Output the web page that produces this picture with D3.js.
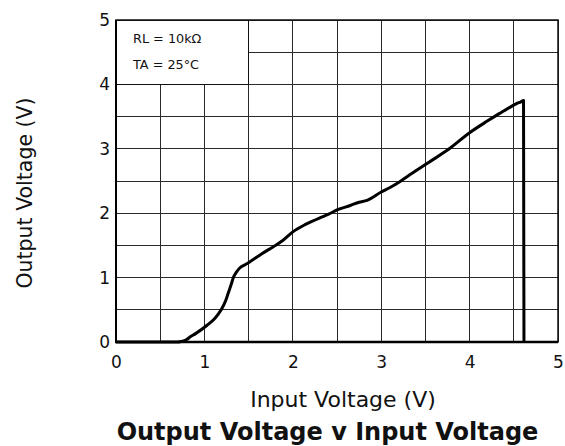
<!DOCTYPE html>
<html><head><meta charset="utf-8">
<script src="https://cdn.jsdelivr.net/npm/d3@7"></script>
<style>body{margin:0;background:#fff;} svg{display:block;}</style>
</head><body>
<script>
const inputV = [0, 0.5, 0.7, 0.74, 0.8, 0.84, 0.9, 1.03, 1.12, 1.19, 1.24, 1.27, 1.3, 1.33, 1.36, 1.4, 1.46, 1.52, 1.65, 1.78, 1.89, 2.0, 2.15, 2.31, 2.4, 2.5, 2.65, 2.75, 2.84, 3.0, 3.1, 3.21, 3.35, 3.55, 3.75, 4.0, 4.2, 4.34, 4.45, 4.53, 4.58, 4.61, 4.615];
const outputV = [0, 0, 0, 0.01, 0.04, 0.08, 0.13, 0.26, 0.37, 0.5, 0.64, 0.76, 0.88, 1.01, 1.08, 1.15, 1.2, 1.25, 1.37, 1.48, 1.58, 1.71, 1.83, 1.93, 1.98, 2.05, 2.12, 2.17, 2.2, 2.33, 2.4, 2.49, 2.62, 2.8, 2.98, 3.25, 3.43, 3.55, 3.64, 3.7, 3.73, 3.75, 0];
const xTicks = [0, 1, 2, 3, 4, 5];
const yTicks = [0, 1, 2, 3, 4, 5];
const gridStep = [0, 0.5, 1, 1.5, 2, 2.5, 3, 3.5, 4, 4.5, 5];
const legendLines = ["RL = 10kΩ", "TA = 25°C"];
const xLabel = "Input Voltage (V)";
const yLabel = "Output Voltage (V)";
const title = "Output Voltage v Input Voltage";

const W = 565, H = 446;
const svg = d3.select("body").append("svg").attr("width", W).attr("height", H);
const font = "'DejaVu Sans', Verdana, sans-serif";
const x = d3.scaleLinear().domain([0, 5]).range([116, 558]);
const y = d3.scaleLinear().domain([0, 5]).range([342, 20]);

// grid
const g = svg.append("g").attr("stroke", "#2a2a2a").attr("stroke-width", 1).attr("shape-rendering", "crispEdges");
gridStep.forEach(v => {
  g.append("line").attr("x1", x(v)).attr("x2", x(v)).attr("y1", y(0)).attr("y2", y(5));
  g.append("line").attr("x1", x(0)).attr("x2", x(5)).attr("y1", y(v)).attr("y2", y(v));
});
// legend box (covers grid)
svg.append("rect").attr("x", x(0)).attr("y", y(5)).attr("width", x(1.5) - x(0)).attr("height", y(4) - y(5))
  .attr("fill", "#fff").attr("stroke", "#111").attr("stroke-width", 1).attr("shape-rendering", "crispEdges");
legendLines.forEach((t, i) => {
  svg.append("text").attr("x", 133).attr("y", 42.5 + i * 26.7).text(t)
    .attr("font-family", font).attr("font-size", 12.8).attr("fill", "#111");
});
// frame
svg.append("rect").attr("x", x(0)).attr("y", y(5)).attr("width", x(5) - x(0)).attr("height", y(0) - y(5))
  .attr("fill", "none").attr("stroke", "#111").attr("stroke-width", 1.5);
svg.append("line").attr("x1", x(0) - 1).attr("x2", x(5)).attr("y1", y(0)).attr("y2", y(0)).attr("stroke", "#000").attr("stroke-width", 2.5);
svg.append("line").attr("x1", x(0)).attr("x2", x(0)).attr("y1", y(0)).attr("y2", y(5)).attr("stroke", "#000").attr("stroke-width", 2);

// axes (tick labels only)
const xa = svg.append("g").attr("transform", `translate(0,${y(0)})`)
  .call(d3.axisBottom(x).tickValues(xTicks).tickFormat(d3.format("d")).tickSize(0).tickPadding(14));
const ya = svg.append("g").attr("transform", `translate(${x(0)},0)`)
  .call(d3.axisLeft(y).tickValues(yTicks).tickFormat(d3.format("d")).tickSize(0).tickPadding(6));
[xa, ya].forEach(a => {
  a.select(".domain").remove();
  a.selectAll("text").attr("font-family", font).attr("font-size", 17).attr("fill", "#111");
});

// curve
const data = inputV.map((v, i) => [v, outputV[i]]);
svg.append("path").datum(data)
  .attr("d", d3.line().x(d => x(d[0])).y(d => y(d[1])).curve(d3.curveMonotoneX))
  .attr("fill", "none").attr("stroke", "#000").attr("stroke-width", 3).attr("stroke-linejoin", "round");

// labels
svg.append("text").attr("x", 343).attr("y", 406.5).attr("text-anchor", "middle").text(xLabel)
  .attr("font-family", font).attr("font-size", 22).attr("fill", "#111");
svg.append("text").attr("transform", "translate(32,193) rotate(-90)").attr("text-anchor", "middle").text(yLabel)
  .attr("font-family", font).attr("font-size", 20.5).attr("fill", "#111");
svg.append("text").attr("x", 327.5).attr("y", 440).attr("text-anchor", "middle").text(title)
  .attr("font-family", font).attr("font-size", 24).attr("font-weight", "bold").attr("fill", "#111");
</script>
</body></html>
